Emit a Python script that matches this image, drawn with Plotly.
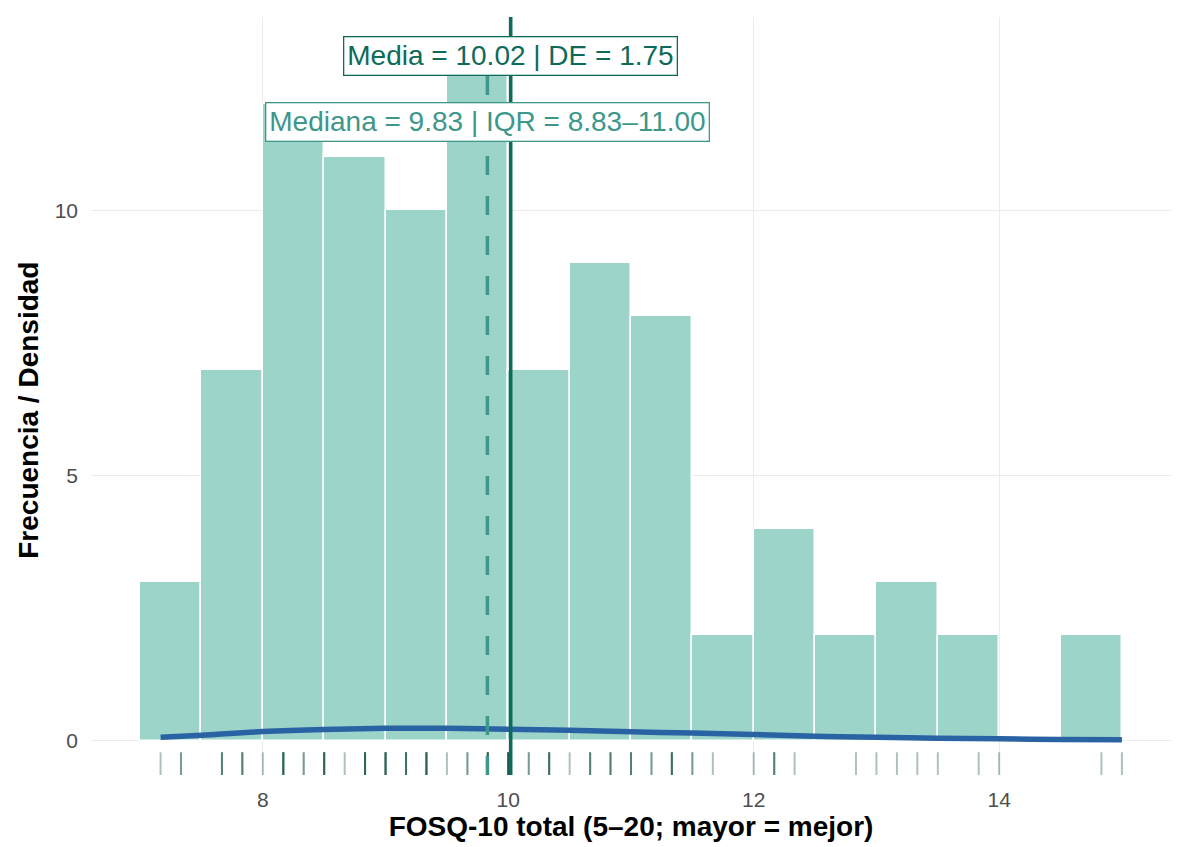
import plotly.graph_objects as go

# ---- data ----
bin_left = [7.0, 7.5, 8.0, 8.5, 9.0, 9.5, 10.0, 10.5, 11.0, 11.5, 12.0, 12.5, 13.0, 13.5, 14.0, 14.5]
bin_counts = [3, 7, 12, 11, 10, 13, 7, 9, 8, 2, 4, 2, 3, 2, 0, 2]
bin_width = 0.5

rug_values = [7.167, 7.333, 7.667, 7.833, 8.0, 8.167, 8.333, 8.5, 8.667, 8.833, 9.0,
              9.167, 9.333, 9.5, 9.667, 9.833, 10.0, 10.167, 10.333, 10.5, 10.667,
              10.833, 11.0, 11.167, 11.333, 11.5, 11.667, 12.0, 12.167, 12.333,
              12.833, 13.0, 13.167, 13.333, 13.5, 13.833, 14.0, 14.833, 15.0]
rug_counts = [1, 2, 3, 3, 1, 5, 2, 5, 1, 5, 5,
              4, 5, 1, 2, 5, 6, 2, 4, 1, 3,
              3, 3, 2, 4, 2, 1, 1, 3, 1,
              1, 1, 1, 1, 1, 1, 1, 1, 1]

dens_x = [7.167, 7.5, 8.0, 8.5, 9.0, 9.5, 10.0, 10.5, 11.0, 11.5, 12.0, 12.5, 13.0, 13.5, 14.0, 14.5, 15.0]
dens_y = [0.06, 0.10, 0.17, 0.21, 0.23, 0.23, 0.215, 0.195, 0.165, 0.14, 0.115, 0.08, 0.06, 0.045, 0.032, 0.02, 0.013]

mean_val = 10.02
sd_val = 1.75
median_val = 9.83
q1_val = 8.83
q3_val = 11.00

x_ticks = [8, 10, 12, 14]
y_ticks = [0, 5, 10]

# ---- colours ----
bar_fill = "#9dd4ca"
mean_col = "#0d6b5a"
median_col = "#3d978a"
dens_col = "#2a63a3"
rug_col = "rgba(20,80,70,0.35)"
FONT = "Liberation Sans, Arial, sans-serif"

fig = go.Figure()

fig.add_trace(go.Bar(
    x=[b + bin_width / 2 for b in bin_left],
    y=bin_counts,
    width=bin_width,
    marker=dict(color=bar_fill, line=dict(color="white", width=1.5)),
    showlegend=False,
    hoverinfo="x+y",
))

fig.add_trace(go.Scatter(
    x=dens_x, y=dens_y, mode="lines",
    line=dict(color=dens_col, width=5.5, shape="spline"),
    showlegend=False,
))

shapes = []
# rug (one tick per observation, alpha compounds for repeated values)
for v, c in zip(rug_values, rug_counts):
    for _ in range(c):
        shapes.append(dict(type="line", xref="x", yref="y domain",
                           x0=v, x1=v, y0=0, y1=0.03,
                           line=dict(color=rug_col, width=2)))
# median (dashed) and mean (solid) lines
shapes.append(dict(type="line", xref="x", yref="y domain", x0=median_val, x1=median_val,
                   y0=0, y1=1, line=dict(color=median_col, width=3.5, dash="19px,21px")))
shapes.append(dict(type="line", xref="x", yref="y domain", x0=mean_val, x1=mean_val,
                   y0=0, y1=1, line=dict(color=mean_col, width=3.5)))

annotations = [
    dict(x=mean_val, xref="x", y=0.948, yref="y domain",
         text=f"Media = {mean_val:.2f} | DE = {sd_val:.2f}",
         showarrow=False, font=dict(family=FONT, size=28, color=mean_col),
         bgcolor="white", bordercolor=mean_col, borderwidth=1.3, borderpad=3,
         xanchor="center", yanchor="middle"),
    dict(x=median_val, xref="x", y=0.862, yref="y domain",
         text=f"Mediana = {median_val:.2f} | IQR = {q1_val:.2f}\u2013{q3_val:.2f}",
         showarrow=False, font=dict(family=FONT, size=28, color=median_col),
         bgcolor="white", bordercolor=median_col, borderwidth=1.3, borderpad=3,
         xanchor="center", yanchor="middle"),
    dict(x=-0.058, xref="paper", y=0.481, yref="paper", textangle=-90,
         text="<b>Frecuencia / Densidad</b>", showarrow=False,
         font=dict(family=FONT, size=28, color="black"),
         xanchor="center", yanchor="middle"),
]

fig.update_layout(
    width=1186, height=847,
    margin=dict(l=91, r=15, t=17, b=72),
    paper_bgcolor="white", plot_bgcolor="white",
    font=dict(family=FONT, color="#4d4d4d"),
    shapes=shapes, annotations=annotations,
    bargap=0,
    xaxis=dict(
        range=[6.6, 15.4], tickvals=x_ticks, showgrid=True, gridcolor="#ebebeb", gridwidth=1.2,
        zeroline=False, showline=False, ticks="", tickfont=dict(size=21, color="#4d4d4d"),
        ticklabelstandoff=10,
        title=dict(text="<b>FOSQ-10 total (5\u201320; mayor = mejor)</b>",
                   font=dict(size=28, color="black", family=FONT), standoff=1),
    ),
    yaxis=dict(
        range=[-0.65, 13.65], tickvals=y_ticks, showgrid=True, gridcolor="#ebebeb", gridwidth=1.2,
        zeroline=False, showline=False, ticks="", tickfont=dict(size=21, color="#4d4d4d"),
        ticklabelstandoff=12,
    ),
)

fig.write_html("out.html")
